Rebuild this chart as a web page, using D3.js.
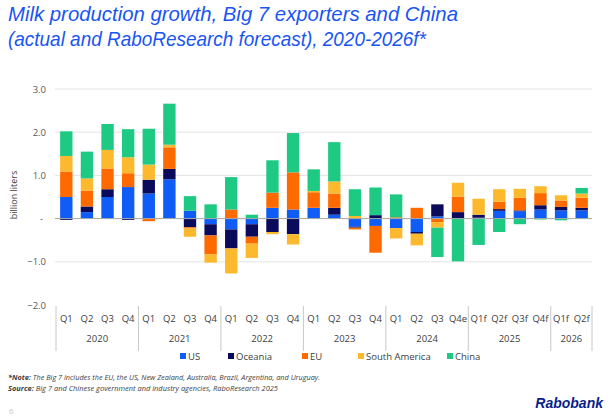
<!DOCTYPE html>
<html><head><meta charset="utf-8">
<script src="https://cdn.jsdelivr.net/npm/d3@7"></script>
<style>
html,body{margin:0;padding:0;background:#fff;}
svg{display:block;font-family:"Open Sans","Noto Sans",sans-serif;}
</style></head>
<body>
<svg id="chart" width="608" height="420"></svg>
<script>
// ---- data ----
const quarters = ["Q1","Q2","Q3","Q4","Q1","Q2","Q3","Q4","Q1","Q2","Q3","Q4","Q1","Q2","Q3","Q4","Q1","Q2","Q3","Q4e","Q1f","Q2f","Q3f","Q4f","Q1f","Q2f"];
const years = ["2020","2021","2022","2023","2024","2025","2026"];
const yearCounts = [4,4,4,4,4,4,2];
const seriesNames = ["US","Oceania","EU","South America","China"];
const us      = [0.50,0.15,0.50,0.73, 0.58,0.91,0.18,-0.13, -0.25,-0.13,0.25,0.21, 0.25,0.09,-0.19,-0.17, -0.22,-0.31,0.05,0.00, 0.02,0.18,0.17,0.21, 0.19,0.19];
const oceania = [-0.03,0.13,0.18,-0.03, 0.32,0.24,-0.20,-0.26, -0.44,-0.29,-0.31,-0.36, 0.00,0.16,-0.02,0.08, 0.00,-0.04,0.28,0.15, 0.07,0.04,0.02,0.10, 0.08,0.06];
const eu      = [0.59,0.37,0.48,0.32, -0.06,0.50,-0.03,-0.44, 0.21,-0.16,0.35,0.86, 0.36,0.33,-0.04,-0.62, 0.03,0.25,-0.08,0.36, 0.00,0.17,0.29,0.28, 0.15,0.23];
const southAmerica = [0.36,0.28,0.43,0.37, 0.35,0.06,-0.19,-0.19, -0.58,-0.33,-0.05,-0.24, 0.03,0.28,0.06,0.00, -0.24,-0.27,-0.13,0.32, 0.37,0.29,0.21,0.16, 0.12,0.10];
const china   = [0.57,0.62,0.60,0.65, 0.83,0.95,0.34,0.33, 0.75,0.09,0.75,0.91, 0.50,0.91,0.62,0.64, 0.53,0.00,-0.68,-0.99, -0.61,-0.31,-0.13,-0.02, -0.04,0.13];
const yTicks = [3,2,1,0,-1,-2];
const colors = ["#0f5cf6","#0b0b5c","#ff6a00","#fdb92e","#1ec983"];

// ---- build table ----
const seriesArrays = [us, oceania, eu, southAmerica, china];
const rows = quarters.map((q,i)=>{
  const r = {idx:i};
  seriesNames.forEach((s,k)=>{ r[s]=seriesArrays[k][i]; });
  return r;
});

const svg = d3.select("#chart");
svg.append("rect").attr("width",608).attr("height",420).attr("fill","#fff");

// title
const titleColor = "#1a55f2";
const title = svg.append("g").attr("font-style","italic").attr("fill",titleColor).attr("font-size",21)
  .attr("font-family","'Liberation Sans',Arial,sans-serif");
title.append("text").attr("x",8).attr("y",21).attr("textLength",450).attr("lengthAdjust","spacingAndGlyphs")
  .text("Milk production growth, Big 7 exporters and China");
title.append("text").attr("x",8).attr("y",46).attr("textLength",418).attr("lengthAdjust","spacingAndGlyphs")
  .text("(actual and RaboResearch forecast), 2020-2026f*");

// scales
const x = d3.scaleBand().domain(d3.range(quarters.length)).range([56,592]).paddingInner(0.4).paddingOuter(0.2);
const y = d3.scaleLinear().domain([-2,3]).range([305,89]);

// gridlines
svg.append("g").selectAll("line").data(yTicks.filter(t=>t!==0 && t!==-2)).join("line")
  .attr("x1",55).attr("x2",592).attr("y1",d=>y(d)).attr("y2",d=>y(d))
  .attr("stroke","#e4e4e4").attr("stroke-width",1);

// y axis labels
const yAxis = d3.axisLeft(y).tickValues(yTicks).tickSize(0).tickPadding(0)
  .tickFormat(d=> d===0 ? "-" : d3.format(".1f")(d));
const ya = svg.append("g").attr("transform","translate(46,0)").call(yAxis);
ya.select(".domain").remove();
ya.selectAll("text").attr("font-size",9.5).attr("fill","#595959").attr("font-family","'Open Sans',sans-serif");
ya.selectAll(".tick").filter(d=>d===0).select("text").attr("dx",-3);

svg.append("text").attr("transform","translate(17,"+195+") rotate(-90)").attr("text-anchor","middle")
  .attr("font-size",9).attr("fill","#404040").text("billion liters");

// stacked bars
const stack = d3.stack().keys(seriesNames).offset(d3.stackOffsetDiverging);
const stacked = stack(rows);
svg.append("g").selectAll("g").data(stacked).join("g")
  .attr("fill",(d,i)=>colors[i])
  .selectAll("rect").data(d=>d).join("rect")
  .attr("x",d=>x(d.data.idx)).attr("width",x.bandwidth())
  .attr("y",d=>y(Math.max(d[0],d[1])))
  .attr("height",d=>Math.abs(y(d[0])-y(d[1])));

// zero line
svg.append("line").attr("x1",55).attr("x2",592).attr("y1",y(0)).attr("y2",y(0))
  .attr("stroke","#a6a6a6").attr("stroke-width",1);

// category axis
const xa = svg.append("g");
xa.selectAll("text.q").data(quarters).join("text").attr("class","q")
  .attr("x",(d,i)=>x(i)+x.bandwidth()/2).attr("y",322).attr("text-anchor","middle")
  .attr("font-size",9.5).attr("fill","#404040").text(d=>d);
let starts = [0];
yearCounts.forEach((c,i)=>starts.push(starts[i]+c));
const step = x.step();
const bx = i => i===quarters.length ? 592 : x(i) - (step - x.bandwidth())/2;
const boundaries = starts.map(bx);
xa.selectAll("line.sep").data(boundaries).join("line").attr("class","sep")
  .attr("x1",d=>d).attr("x2",d=>d).attr("y1",306).attr("y2",351)
  .attr("stroke","#c8c8c8").attr("stroke-width",1);
xa.selectAll("text.yr").data(years).join("text").attr("class","yr")
  .attr("x",(d,i)=>(boundaries[i]+boundaries[i+1])/2).attr("y",342).attr("text-anchor","middle")
  .attr("font-size",9.5).attr("fill","#404040").text(d=>d);

// legend
const legX = [180,228,302,358,447];
const leg = svg.append("g");
seriesNames.forEach((s,i)=>{
  leg.append("rect").attr("x",legX[i]).attr("y",353).attr("width",6).attr("height",6).attr("fill",colors[i]);
  leg.append("text").attr("x",legX[i]+8).attr("y",360).attr("font-size",9.5).attr("fill","#404040").text(s);
});

// footnotes
const fn = svg.append("g").attr("font-size",7).attr("font-style","italic").attr("fill","#404040");
const t1 = fn.append("text").attr("x",8).attr("y",380).attr("textLength",312).attr("lengthAdjust","spacingAndGlyphs");
t1.append("tspan").attr("font-weight","bold").text("*Note:");
t1.append("tspan").text(" The Big 7 includes the EU, the US, New Zealand, Australia, Brazil, Argentina, and Uruguay.");
const t2 = fn.append("text").attr("x",8).attr("y",391).attr("textLength",270).attr("lengthAdjust","spacingAndGlyphs");
t2.append("tspan").attr("font-weight","bold").text("Source:");
t2.append("tspan").text(" Big 7 and Chinese government and industry agencies, RaboResearch 2025");

svg.append("text").attr("x",9).attr("y",414).attr("font-size",8).attr("fill","#c8c8c8").text("6");
svg.append("text").attr("x",603).attr("y",408).attr("text-anchor","end").attr("font-size",14)
  .attr("font-weight","bold").attr("font-style","italic").attr("fill","#0b1f8c")
  .attr("font-family","'Liberation Sans',Arial,sans-serif").text("Rabobank");
</script>
</body></html>
